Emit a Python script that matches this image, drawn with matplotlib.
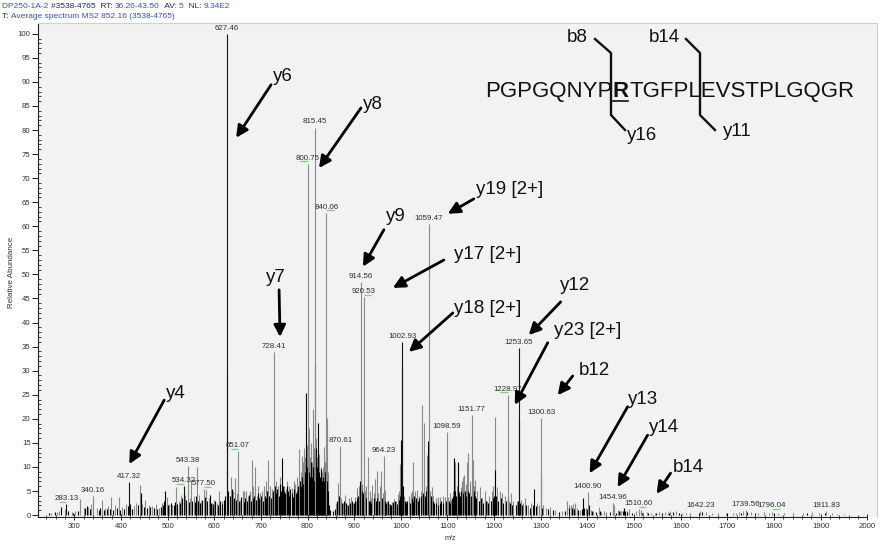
import matplotlib
matplotlib.use('Agg')
import matplotlib.pyplot as plt
from matplotlib.lines import Line2D

plt.rcParams['font.family'] = ['Liberation Sans', 'DejaVu Sans']

# ---------------- data ----------------
label_mz = [283.13, 340.16, 417.32, 534.32, 543.38, 577.50, 627.46, 651.07, 728.41, 800.75,
            815.45, 840.06, 870.61, 914.56, 920.53, 964.23, 1002.93, 1059.47, 1098.59, 1151.77,
            1228.97, 1253.65, 1300.63, 1400.90, 1454.96, 1510.60, 1642.23, 1739.56, 1796.04, 1911.83]
label_int = [2.3, 4.0, 6.9, 6.0, 10.2, 5.4, 100.0, 13.3, 33.9, 73.0,
             80.5, 62.8, 14.3, 48.4, 45.3, 12.3, 36.0, 60.5, 17.3, 20.8,
             25.0, 34.7, 20.2, 4.8, 2.5, 1.2, 0.9, 1.1, 0.7, 0.8]
label_dark = [1, 0, 1, 1, 0, 0, 1, 0, 0, 0,
              0, 0, 0, 0, 0, 0, 1, 0, 0, 0,
              0, 1, 0, 0, 0, 0, 0, 0, 0, 0]
green_mz = [283.13, 534.32, 577.50, 651.07, 800.75, 840.06, 920.53, 1228.97, 1510.60, 1796.04]
green_dir = [-1, -1, 1, -1, -1, 1, 1, -1, 1, 1]

gray_mz = [250, 262, 268, 279, 294, 302, 313, 320, 330, 336, 348, 359, 366, 373, 379, 388, 395, 403, 410, 428,
           433, 440, 446, 452, 460, 466, 475, 481, 488, 498, 504, 510, 518, 524, 529, 538, 548, 551, 556, 563,
           567, 571, 582, 588, 595, 600, 605, 611, 617, 621, 633, 636, 640, 644, 648, 655, 661, 664, 668, 672,
           676, 680, 684, 687, 691, 694, 698, 702, 706, 710, 713, 716, 720, 723, 733, 737, 741, 749, 753, 757,
           760, 766, 770, 774, 778, 781, 785, 788, 791, 793, 795, 799, 803, 806, 808, 810, 812, 814, 819, 821,
           825, 828, 830, 833, 836, 838, 841.5, 843,
           862, 866, 872, 876, 880, 885, 888, 893, 897, 901, 904, 907, 911, 917, 923, 926, 929, 933, 936, 939,
           942, 945, 948, 952, 955, 957, 961, 967, 971, 975, 981, 986, 990, 994, 997, 999, 1006, 1012, 1017, 1021,
           1024, 1027, 1031, 1034, 1038, 1043, 1046, 1050, 1054, 1057, 1063, 1066, 1070, 1075, 1080, 1085, 1090,
           1094, 1101, 1105, 1108, 1111, 1117, 1120, 1125, 1128, 1131, 1133, 1136, 1139, 1141, 1145, 1148, 1154,
           1157, 1160, 1164, 1170, 1174, 1180, 1185, 1190, 1195, 1198, 1202, 1206, 1212, 1218, 1224, 1232, 1236,
           1241, 1249, 1257, 1263, 1266, 1273, 1280, 1292, 1297, 1305, 1312, 1320, 1330, 1345, 1357, 1361, 1364,
           1369, 1374, 1378, 1384, 1396, 1404, 1408, 1412, 1424, 1430, 1436, 1440, 1458, 1465, 1470, 1473, 1484,
           1490, 1505, 1514, 1520, 1527, 1536, 1544, 1553, 1566, 1572, 1578, 1590, 1602, 1612, 1620, 1655, 1668,
           1680, 1697, 1712, 1718, 1726, 1733, 1750, 1765, 1778, 1790, 1808, 1822, 1840, 1862, 1881, 1897, 1925,
           1935, 1950]
gray_int = [0.5, 0.7, 0.9, 1.2, 0.7, 0.9, 3.3, 1.4, 1.6, 2.2, 1.4, 3.1, 1.5, 1.9, 3.8, 2.0, 3.7, 1.7, 2.4, 1.8,
            2.6, 6.3, 2.4, 3.1, 2.0, 1.8, 2.2, 1.5, 2.6, 3.8, 2.3, 2.0, 5.9, 3.0, 4.2, 4.2, 3.5, 7.2, 4.0, 9.9,
            4.2, 3.0, 5.2, 3.5, 2.5, 3.2, 2.5, 4.9, 3.0, 2.8, 3.5, 8.0, 5.0, 7.6, 4.5, 3.2, 5.0, 5.0, 4.9, 4.0,
            5.0, 11.4, 6.0, 9.9, 4.0, 6.0, 4.5, 5.0, 6.0, 7.0, 5.0, 11.4, 6.0, 5.5, 7.0, 6.0, 8.0, 6.0, 5.5, 7.0,
            6.0, 5.6, 7.0, 6.5, 8.0, 13.7, 9.0, 12.2, 11.0, 14.0, 12.0, 14.5, 18.0, 12.0, 15.0, 11.0, 22.0, 14.0, 16.0, 12.0,
            12.6, 10.0, 9.0, 10.0, 14.2, 11.0, 20.1, 9.0,
            2.5, 6.6, 3.5, 2.5, 4.2, 2.0, 3.5, 3.8, 2.6, 3.8, 3.0, 5.6, 6.0, 6.5, 5.0, 6.0, 12.1, 4.9, 3.5, 6.3,
            4.5, 7.5, 9.1, 4.5, 6.0, 9.1, 4.5, 5.2, 3.0, 2.4, 2.8, 3.4, 3.0, 4.4, 5.0, 10.7, 4.0, 3.0, 4.0, 4.5,
            5.0, 11.1, 5.0, 5.2, 4.0, 5.0, 22.9, 19.1, 6.0, 12.5, 5.0, 5.8, 4.0, 3.5, 3.8, 3.8, 4.0,
            3.8, 3.8, 4.5, 3.2, 5.0, 11.1, 6.0, 5.0, 5.8, 7.0, 7.9, 8.3, 6.5, 11.1, 12.8, 7.0, 11.4,
            6.0, 7.2, 5.0, 5.8, 3.5, 4.9, 3.0, 4.0, 5.0, 6.0, 20.3, 5.8, 4.9, 4.5, 4.0, 3.0, 4.5,
            3.0, 3.0, 3.1, 2.5, 3.5, 2.0, 2.5, 2.5, 2.0, 2.0, 1.5, 1.7, 1.0, 0.8, 3.0, 2.0, 2.1,
            2.4, 2.5, 1.4, 1.0, 1.5, 1.5, 1.0, 0.8, 1.7, 0.6, 0.8, 0.7, 2.0, 1.0, 0.9, 0.9, 0.9,
            1.2, 0.9, 1.0, 0.6, 0.6, 0.5, 0.5, 0.6, 0.6, 0.7, 0.8, 0.8, 0.5, 0.4, 0.5, 0.6, 0.4,
            0.5, 0.5, 0.5, 0.4, 0.7, 0.8, 0.6, 0.5, 0.6, 0.5, 0.5, 0.4, 0.4, 0.4, 0.6, 0.4, 0.4,
            0.3, 0.3]

black_mz = [245, 258, 271, 286, 298, 308, 323, 327, 333, 341, 352, 356, 363, 369, 376, 383, 391, 398, 407, 414,
            420, 424, 437, 443, 449, 456, 463, 470, 478, 485, 490, 493, 495, 500, 507, 513, 516, 521, 527, 531,
            540, 545, 553, 558, 561, 565, 570, 574, 580, 585, 590, 593, 597, 602, 608, 613, 616, 620, 624, 627.2,
            630, 634, 638, 642, 646, 650, 653, 658, 663, 666, 670, 674, 678, 682, 686, 689, 693, 696, 700, 704,
            708, 711, 714, 718, 721, 725, 727, 730, 732, 735, 738, 740, 743, 745, 747, 750, 752, 755, 758, 761,
            763, 767, 769, 772, 775, 777, 780, 783, 786, 789, 791, 794, 797, 798, 801, 802.5, 805, 807, 809, 811,
            813, 816, 817, 818, 820, 822, 823, 824, 826, 828, 829, 831, 832, 834, 835, 837, 839, 842, 844, 846,
            849, 854, 858, 864, 868, 874, 878, 882, 886, 890, 895, 899, 902, 906, 909, 913, 914.3, 916, 919, 921,
            925, 931, 934, 937, 943, 947, 950, 953, 959, 963, 966, 969, 973, 977, 980, 984, 988, 992, 996, 998,
            1000.5, 1002.7, 1004, 1008, 1011, 1014, 1019, 1023, 1026, 1029, 1032, 1036, 1040, 1044, 1048, 1052,
            1055, 1059.2, 1061, 1064, 1068, 1072, 1076, 1079, 1083, 1087, 1091, 1096, 1100, 1103, 1106, 1109,
            1112, 1114, 1116, 1119, 1122, 1124, 1127, 1130, 1134, 1137, 1140, 1143, 1147, 1150, 1152, 1156,
            1159, 1162, 1167, 1172, 1177, 1182, 1187, 1193, 1197, 1200, 1202.4, 1204, 1209, 1214, 1220, 1226,
            1229, 1234, 1239, 1246, 1251, 1253.5, 1256, 1260, 1268, 1276, 1283, 1286, 1289, 1300.4, 1302, 1315,
            1327, 1340, 1352, 1360, 1367, 1371, 1380, 1388, 1391, 1393, 1399, 1403, 1410, 1418, 1428, 1448,
            1456, 1462, 1468, 1476, 1478, 1481, 1486, 1495, 1510, 1517, 1530, 1548, 1560, 1575, 1584, 1596,
            1640, 1645, 1700, 1730, 1742, 1760, 1800, 1870, 1910]
black_int = [0.4, 0.6, 1.6, 0.8, 0.5, 0.8, 1.5, 1.8, 1.2, 1.0, 1.1, 1.4, 1.0, 1.2, 1.3, 1.1, 1.4, 1.0, 1.3, 1.8,
             2.4, 1.3, 2.0, 4.5, 1.6, 1.5, 1.7, 1.4, 1.2, 1.6, 2.0, 3.0, 4.9, 2.0, 2.5, 2.0, 2.8, 2.2, 2.5, 3.5,
             3.2, 2.8, 3.0, 2.8, 4.0, 3.0, 2.6, 3.2, 3.8, 3.0, 4.2, 2.6, 2.4, 3.0, 2.0, 3.0, 2.2, 3.2, 4.0, 29.3,
             5.0, 4.0, 5.5, 3.5, 3.2, 4.0, 3.0, 3.8, 2.8, 3.5, 3.0, 4.2, 3.0, 3.5, 4.0, 3.2, 4.5, 3.5, 4.0, 3.0,
             4.0, 3.5, 5.0, 4.0, 3.5, 5.0, 4.5, 6.0, 4.5, 5.5, 4.0, 6.5, 5.0, 11.8, 6.0, 5.0, 4.5, 6.0, 5.0, 4.0,
             5.5, 4.5, 3.8, 5.5, 4.5, 5.0, 6.0, 7.0, 6.0, 8.0, 6.5, 9.0, 25.3, 10.0, 12.0, 9.0, 8.0, 11.0, 8.0, 10.0,
             7.0, 12.0, 31.6, 14.0, 10.0, 8.5, 19.1, 9.0, 8.0, 7.0, 9.5, 7.0, 6.0, 8.0, 7.0, 9.0, 12.0, 7.0, 5.0, 2.0,
             1.0, 0.8, 1.2, 3.0, 4.0, 2.5, 3.0, 2.5, 2.0, 2.5, 3.0, 2.5, 3.0, 3.5, 4.0, 7.0, 15.6, 5.0, 4.5, 6.0,
             3.5, 3.0, 3.0, 2.5, 3.5, 3.0, 3.5, 3.0, 3.5, 3.5, 3.0, 2.5, 3.0, 2.2, 2.0, 2.8, 3.0, 2.4, 3.2, 4.0,
             15.6, 30.8, 6.0, 3.0, 2.5, 3.0, 2.5, 3.5, 3.0, 4.0, 3.5, 3.0, 3.5, 4.0, 4.5, 4.0,
             5.0, 15.3, 5.0, 4.0, 3.0, 2.5, 2.5, 2.0, 2.5, 3.0, 2.5, 3.0, 2.5, 3.0, 2.5, 3.5,
             4.0, 11.8, 5.0, 4.0, 11.1, 4.5, 4.0, 5.0, 4.5, 5.0, 4.0, 5.0, 4.5, 4.0, 6.0, 5.0,
             4.0, 3.5, 3.0, 3.5, 2.5, 3.0, 2.5, 3.0, 3.5, 4.0, 9.4, 4.0, 3.0, 3.5, 2.5, 3.0,
             4.0, 2.5, 2.0, 2.0, 3.0, 19.8, 2.5, 2.0, 2.0, 1.5, 2.0, 5.4, 1.8, 7.6, 1.5, 1.2,
             1.0, 0.7, 0.8, 1.5, 1.5, 1.3, 1.0, 1.2, 3.5, 1.5, 1.2, 2.0, 0.8, 0.6, 0.8, 0.7,
             1.0, 0.5, 0.8, 0.8, 1.4, 0.9, 0.7, 0.5, 0.6, 0.5, 0.4, 0.4, 0.5, 0.5, 0.6, 0.4,
             0.5, 0.7, 0.4, 0.5, 0.6, 0.4, 0.5, 0.4, 0.4]

# fragment annotations: text, text anchor (m/z, rel.), arrow start, arrow tip
ann_text = ['y6', 'y8', 'y7', 'y9', 'y19 [2+]', 'y17 [2+]', 'y18 [2+]', 'y12', 'y23 [2+]',
            'b12', 'y13', 'y14', 'b14', 'y4']
ann_pos = [(726, 91.1), (919, 85.4), (711, 49.3), (968, 62.0), (1161, 67.6), (1114, 54.1),
           (1114, 43.0), (1341, 47.8), (1328, 38.3), (1381, 30.1), (1486, 24.0), (1531, 18.2),
           (1583, 9.9), (497, 25.3)]
ann_from = [(721.8, 89.4), (914.6, 84.6), (739, 46.8), (963.8, 59.3), (1156.5, 65.7), (1092.3, 53.0),
            (1111.6, 42.0), (1342.8, 44.3), (1315, 35.8), (1368.5, 28.9), (1486.3, 22.5), (1529.1, 16.6),
            (1578.4, 8.7), (492.7, 23.9)]
ann_to = [(646.9, 78.4), (824.6, 72.1), (741, 37.0), (918.8, 51.6), (1100.9, 62.6), (983, 47.2),
          (1017.3, 33.9), (1274.3, 37.4), (1244.3, 22.9), (1336.4, 24.9), (1404.9, 8.7), (1464.9, 5.8),
          (1548.4, 4.4), (417.8, 10.6)]

seq_left = 'PGPGQNYP'
seq_mod = 'R'
seq_right = 'TGFPLEVSTPLGQGR'

header1 = [('DP250-1A-2 ', '#3a55b0'), ('#3538-4765  RT: ', '#22285a'), ('36.26-43.50', '#3a55b0'),
           ('  AV: ', '#22285a'), ('5', '#3a55b0'), ('  NL: ', '#22285a'), ('9.34E2', '#3a55b0')]
header2 = [('T: ', '#22285a'), ('Average spectrum MS2 852.16 (3538-4765)', '#3a55b0')]

# ---------------- figure ----------------
W, H = 883, 544
fig = plt.figure(figsize=(W / 100, H / 100), dpi=100)
fig.patch.set_facecolor('white')


def fx(x):
    return x / W


def fy(y):
    return 1 - y / H


ax = fig.add_axes([fx(37.5), fy(517), (877 - 37.5) / W, (517 - 22.7) / H])
ax.set_facecolor('#f2f2f2')
XMIN, XMAX = 221, 2021
ax.set_xlim(XMIN, XMAX)
ax.set_ylim(-0.4, 102.3)

ax.vlines(gray_mz, 0, gray_int, color='#8a8a8a', lw=0.8)
ax.vlines(black_mz, 0, black_int, color='black', lw=0.8)
lab_cols = ['#151515' if d else '#8a8a8a' for d in label_dark]
ax.vlines(label_mz, 0, label_int, colors=lab_cols, lw=0.8)

for m, v in zip(label_mz, label_int):
    ax.annotate(f'{m:.2f}', (m, v), xytext=(0, 1.6), textcoords='offset points',
                ha='center', va='bottom', fontsize=5.7, color='#303030')

for m, d in zip(green_mz, green_dir):
    v = label_int[label_mz.index(m)]
    ax.plot([m, m + d * 16], [v + 0.5, v + 0.5], color='#7fd07f', lw=0.9, solid_capstyle='butt')

for t, p, a, b in zip(ann_text, ann_pos, ann_from, ann_to):
    ax.annotate('', xy=b, xytext=a,
                arrowprops=dict(arrowstyle='-|>,head_length=0.7,head_width=0.35', lw=2.0,
                                color='black', shrinkA=0, shrinkB=0, mutation_scale=10))
    ax.text(p[0], p[1], t, fontsize=13.5, ha='left', va='center', color='#111111')

# axes styling
for s in ['top', 'right']:
    ax.spines[s].set_color('#d0d0d0')
    ax.spines[s].set_linewidth(0.8)
for s in ['left', 'bottom']:
    ax.spines[s].set_color('#222222')
    ax.spines[s].set_linewidth(0.8)
ax.spines['bottom'].set_bounds(XMIN, 2000)

xmaj = list(range(300, 2001, 100))
ax.set_xticks(xmaj)
ax.set_xticks([v for v in range(240, 2001, 20) if v % 100 != 0], minor=True)
ax.set_yticks(list(range(0, 101, 5)))
ax.set_yticks([v for v in range(0, 101) if v % 5 != 0], minor=True)
ax.tick_params(axis='both', which='major', labelsize=5.6, labelcolor='#333333', color='#222222',
               width=0.7)
ax.tick_params(axis='x', which='major', direction='inout', length=5, pad=2)
ax.tick_params(axis='x', which='minor', direction='inout', length=3, width=0.6, color='#222222')
ax.tick_params(axis='y', which='major', direction='out', length=4, pad=1)
ax.tick_params(axis='y', which='minor', direction='in', length=2, width=0.6, color='#222222')

fig.text(fx(450), fy(538), 'm/z', fontsize=5.2, color='#333333', ha='center', va='center')
fig.text(fx(12), fy(272), 'Relative Abundance', fontsize=5.8, color='#333333', rotation=90,
         ha='center', va='center')

# header lines
renderer = fig.canvas.get_renderer()


def text_w(s, size):
    t1 = fig.text(0, 0, '|' + s + '|', fontsize=size)
    t2 = fig.text(0, 0, '||', fontsize=size)
    w = t1.get_window_extent(renderer).width - t2.get_window_extent(renderer).width
    t1.remove()
    t2.remove()
    return w


def seq_text(x, y, parts, size):
    for s, c in parts:
        fig.text(fx(x), fy(y), s, fontsize=size, color=c, ha='left', va='center')
        x += text_w(s, size)


seq_text(2, 6.5, header1, 6.0)
seq_text(2, 16.5, header2, 6.0)

# peptide sequence with cleavage brackets
base_y = 97
fig.text(fx(612.5), fy(base_y), seq_left, fontsize=16, ha='right', va='baseline', color='#111111')
fig.text(fx(613), fy(base_y), seq_mod, fontsize=16, ha='left', va='baseline', color='#111111',
         fontweight='bold')
fig.text(fx(629), fy(base_y), seq_right, fontsize=16, ha='left', va='baseline', color='#111111')
fig.add_artist(Line2D([fx(613), fx(628)], [fy(100.5), fy(100.5)], color='#111111', lw=1.2))

for xs, ys in [([595, 611, 611, 625], [39, 53, 115, 130]), ([686, 700, 700, 715], [39, 53, 115, 130])]:
    fig.add_artist(Line2D([fx(v) for v in xs], [fy(v) for v in ys], color='#111111', lw=1.7))

for s, x, y in [('b8', 577, 37), ('y16', 642, 135), ('b14', 664, 38), ('y11', 737, 132)]:
    fig.text(fx(x), fy(y), s, fontsize=13.5, ha='center', va='center', color='#111111')

fig.savefig('out.png', dpi=100)
